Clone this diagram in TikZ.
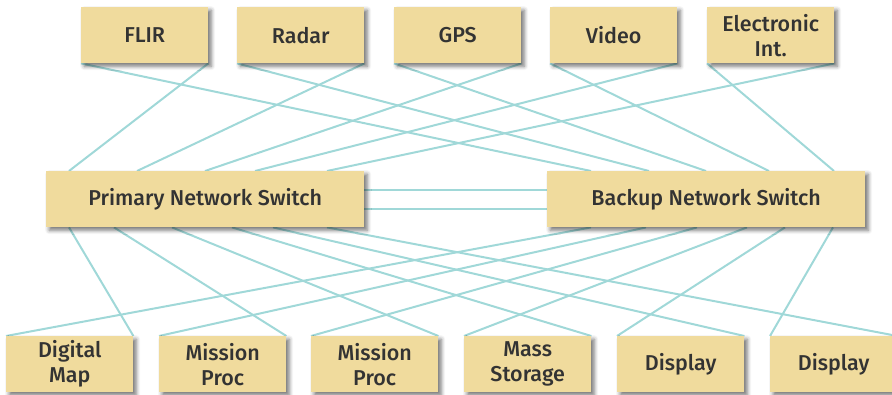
\documentclass[tikz,border=0pt]{standalone}
\usepackage{fontspec}
\setmainfont{Fira Sans}[UprightFont=* Medium]
\usetikzlibrary{shadows.blur,backgrounds}
\definecolor{boxfill}{HTML}{F0DB9D}
\definecolor{wire}{HTML}{A0D8D8}
\definecolor{ink}{HTML}{333333}
\tikzset{
  unit/.style={draw=none, fill=boxfill, text=ink, anchor=north west, inner sep=0pt,
    minimum width=127pt, minimum height=56pt, align=center,
    font=\fontsize{21.5}{25}\selectfont,
    blur shadow={shadow xshift=3pt, shadow yshift=-3pt, shadow blur radius=4pt, shadow opacity=55}},
  switchbox/.style={unit, minimum width=318pt},
  link/.style={draw=wire, line width=2pt}
}
\begin{document}
\begin{tikzpicture}[x=1pt,y=-1pt]
\useasboundingbox (0,0) rectangle (892,395);
% top
\node[unit] (flir)  at (81,7)  {FLIR};
\node[unit] (radar) at (237,7) {Radar};
\node[unit] (gps)   at (394,7) {GPS};
\node[unit] (video) at (550,7) {Video};
\node[unit] (elint) at (707,7) {Electronic\\Int.};
% switches
\node[switchbox] (primary) at (46,171)  {Primary Network Switch};
\node[switchbox] (backup)  at (547,171) {Backup Network Switch};
% bottom
\node[unit] (dmap)  at (6,336)   {Digital\\Map};
\node[unit] (mp1)   at (159,336) {Mission\\Proc};
\node[unit] (mp2)   at (311,336) {Mission\\Proc};
\node[unit] (mass)  at (464,336) {Mass\\Storage};
\node[unit] (disp1) at (617,336) {Display};
\node[unit] (disp2) at (770,336) {Display};
\begin{scope}[on background layer]
% top to primary
\draw[link] (flir.south east)  -- ([xshift=23pt]primary.north west);
\draw[link] (radar.south east) -- ([xshift=91pt]primary.north west);
\draw[link] (gps.south east)   -- ([xshift=159pt]primary.north west);
\draw[link] (video.south east) -- ([xshift=209pt]primary.north west);
\draw[link] (elint.south east) -- ([xshift=281pt]primary.north west);
% top to backup
\draw[link] (flir.south west)  -- ([xshift=44pt]backup.north west);
\draw[link] (radar.south west) -- ([xshift=102pt]backup.north west);
\draw[link] (gps.south west)   -- ([xshift=159pt]backup.north west);
\draw[link] (video.south west) -- ([xshift=222pt]backup.north west);
\draw[link] (elint.south west) -- ([xshift=287pt]backup.north west);
% switch to switch
\draw[link] ([yshift=9pt]primary.east) -- ([yshift=9pt]backup.west);
\draw[link] ([yshift=-10pt]primary.east) -- ([yshift=-10pt]backup.west);
% primary to bottom
\draw[link] ([xshift=23pt]primary.south west)  -- (dmap.north east);
\draw[link] ([xshift=68pt]primary.south west)  -- (mp1.north east);
\draw[link] ([xshift=126pt]primary.south west) -- (mp2.north east);
\draw[link] ([xshift=186pt]primary.south west) -- (mass.north east);
\draw[link] ([xshift=227pt]primary.south west) -- (disp1.north east);
\draw[link] ([xshift=281pt]primary.south west) -- (disp2.north east);
% backup to bottom
\draw[link] ([xshift=44pt]backup.south west)  -- (dmap.north west);
\draw[link] ([xshift=99pt]backup.south west)  -- (mp1.north west);
\draw[link] ([xshift=150pt]backup.south west) -- (mp2.north west);
\draw[link] ([xshift=200pt]backup.south west) -- (mass.north west);
\draw[link] ([xshift=238pt]backup.south west) -- (disp1.north west);
\draw[link] ([xshift=286pt]backup.south west) -- (disp2.north west);
\end{scope}
\end{tikzpicture}
\end{document}
